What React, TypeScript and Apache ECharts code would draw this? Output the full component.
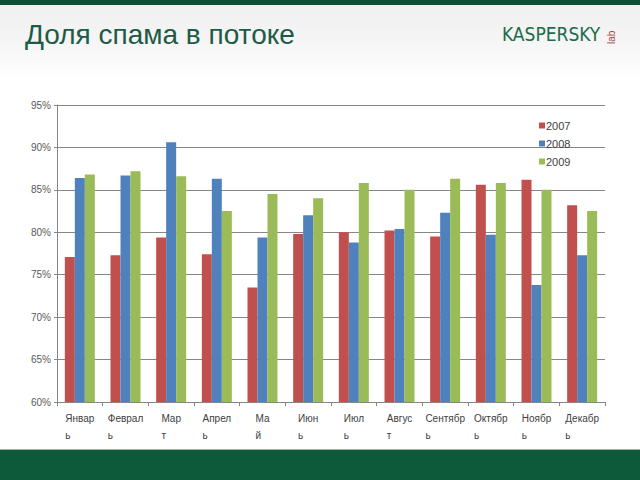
import React, { useEffect, useRef } from "react";
import * as echarts from "echarts";

const months = ["Январь", "Февраль", "Март", "Апрель", "Май", "Июнь", "Июль", "Август", "Сентябрь", "Октябрь", "Ноябрь", "Декабрь"];
const years = ["2007", "2008", "2009"];
const s2007 = [77.1, 77.3, 79.4, 77.4, 73.5, 79.8, 80.0, 80.2, 79.5, 85.6, 86.2, 83.2];
const s2008 = [86.4, 86.7, 90.6, 86.3, 79.4, 82.0, 78.8, 80.4, 82.3, 79.7, 73.8, 77.3];
const s2009 = [86.8, 87.2, 86.6, 82.5, 84.5, 84.0, 85.8, 85.0, 86.3, 85.8, 85.0, 82.5];
const colors = ["#C0504D", "#4F81BD", "#9BBB59"];

export default function App() {
  const ref = useRef<HTMLDivElement>(null);
  useEffect(() => {
    if (!ref.current) return;
    const chart = echarts.init(ref.current, undefined, { renderer: "svg" });
    const seriesData = [s2007, s2008, s2009];
    chart.setOption({
      animation: false,
      backgroundColor: "#ffffff",
      color: colors,
      graphic: [
        {
          type: "rect",
          z: -10,
          shape: { x: 0, y: 0, width: 640, height: 80 },
          style: {
            fill: new echarts.graphic.LinearGradient(0, 0, 0, 1, [
              { offset: 0, color: "#eeefee" },
              { offset: 0.5, color: "#f4f5f4" },
              { offset: 1, color: "#ffffff" },
            ]),
          },
        },
        { type: "rect", z: -5, shape: { x: 0, y: 0, width: 640, height: 5 }, style: { fill: "#0E4E33" } },
        { type: "rect", z: -5, shape: { x: 0, y: 450, width: 640, height: 30 }, style: { fill: "#0D5A3A" } },
        { type: "rect", z: -5, shape: { x: 0, y: 449, width: 640, height: 1 }, style: { fill: "#9bb5a8" } },
        {
          type: "text",
          left: 25,
          top: 20,
          style: {
            text: "Доля спама в потоке",
            fontSize: 28,
            fontFamily: "Liberation Sans, Arial, sans-serif",
            fill: "#1E5B47",
          },
        },
        {
          type: "text",
          left: 502,
          top: 24,
          style: {
            text: "KASPERSKY",
            fontSize: 19,
            fontFamily: "DejaVu Sans Condensed, Liberation Sans, sans-serif",
            fill: "#1E6B4B",
          },
        },
        {
          type: "text",
          x: 606,
          y: 44,
          rotation: Math.PI / 2,
          style: {
            text: "lab",
            fontSize: 10,
            fontFamily: "Liberation Sans, sans-serif",
            fill: "#A8443F",
          },
        },
      ],
      legend: {
        orient: "vertical",
        left: 534,
        top: 115,
        itemWidth: 6,
        itemHeight: 6,
        itemGap: 7,
        icon: "rect",
        data: years,
        textStyle: { color: "#404040", fontSize: 11, fontFamily: "Liberation Sans, sans-serif", padding: [0, 0, 0, -4] },
      },
      grid: { left: 57, right: 35, top: 105, bottom: 78, containLabel: false },
      xAxis: {
        type: "category",
        data: months,
        axisLine: { lineStyle: { color: "#868686", width: 1 } },
        axisTick: { show: true, length: 4, lineStyle: { color: "#868686" } },
        axisLabel: {
          interval: 0,
          margin: 8,
          formatter: (v: string) => "{a|" + v.slice(0, -1) + "}\n{a|" + v.slice(-1) + "}",
          rich: {
            a: {
              align: "left",
              fontSize: 10,
              lineHeight: 17,
              color: "#404040",
              fontFamily: "Liberation Sans, sans-serif",
            },
          },
        },
      },
      yAxis: {
        type: "value",
        min: 60,
        max: 95,
        interval: 5,
        axisLine: { show: true, lineStyle: { color: "#868686", width: 1 } },
        axisTick: { show: true, length: 3, lineStyle: { color: "#868686" } },
        splitLine: { lineStyle: { color: "#868686", width: 1 } },
        axisLabel: {
          formatter: (v: number) => v + "%",
          fontSize: 10,
          color: "#595959",
          margin: 6,
          fontFamily: "Liberation Sans, sans-serif",
        },
      },
      series: years.map((y, i) => ({
        name: y,
        type: "bar",
        data: seriesData[i],
        barWidth: 10,
        barGap: "0%",
        itemStyle: { color: colors[i] },
      })),
    });
    return () => chart.dispose();
  }, []);
  return <div ref={ref} style={{ position: "fixed", left: 0, top: 0, width: 640, height: 480 }} />;
}
